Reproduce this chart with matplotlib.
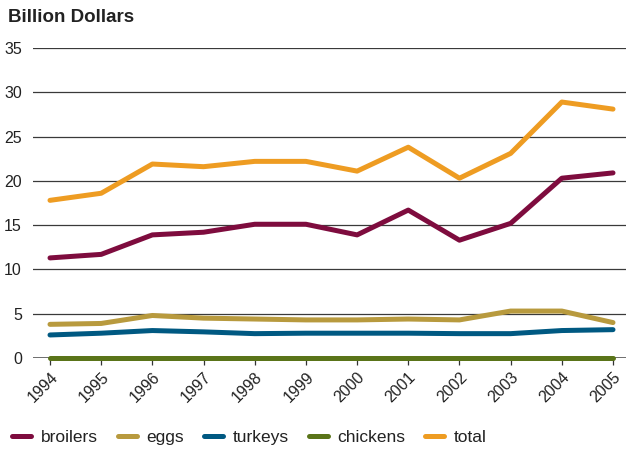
import matplotlib
matplotlib.use("Agg")
import matplotlib.pyplot as plt

plt.rcParams['font.family'] = ['Liberation Sans', 'DejaVu Sans']

years = [1994, 1995, 1996, 1997, 1998, 1999, 2000, 2001, 2002, 2003, 2004, 2005]
broilers = [11.3, 11.7, 13.9, 14.2, 15.1, 15.1, 13.9, 16.7, 13.3, 15.2, 20.3, 20.9]
eggs = [3.8, 3.9, 4.8, 4.5, 4.4, 4.3, 4.3, 4.4, 4.3, 5.3, 5.3, 4.0]
turkeys = [2.6, 2.8, 3.1, 2.95, 2.75, 2.8, 2.8, 2.8, 2.75, 2.75, 3.1, 3.2]
chickens = [0.05] * 12
total = [17.8, 18.6, 21.9, 21.6, 22.2, 22.2, 21.1, 23.8, 20.3, 23.1, 28.9, 28.1]

series = [
    ("broilers", broilers, "#7E0C3E"),
    ("eggs", eggs, "#B89A3E"),
    ("turkeys", turkeys, "#005982"),
    ("chickens", chickens, "#5A7419"),
    ("total", total, "#EE9C22"),
]

fig = plt.figure(figsize=(6.26, 4.49), dpi=100)
ax = fig.add_axes([33/626, 1 - 358/449, 1 - 33/626, 310/449])

for y in range(5, 40, 5):
    ax.axhline(y, color="#3a3a3a", lw=0.9, zorder=1)
ax.axhline(0, color="#555555", lw=1.2, zorder=1)

for name, vals, col in series:
    ax.plot(years, vals, color=col, lw=3.6, label=name, solid_capstyle="round",
            solid_joinstyle="round", zorder=3, clip_on=False)

ax.set_xlim(1994 - 17/51.18, 2005 + 13/51.18)
ax.set_ylim(0, 35)
ax.set_yticks(range(0, 40, 5))
ax.set_xticks(years)
ax.set_xticklabels([str(y) for y in years], rotation=45, ha="right",
                   rotation_mode="anchor", fontsize=11.5, color="#222222")
ax.tick_params(axis="y", length=0, labelsize=11.5, labelcolor="#222222", pad=8)
ax.tick_params(axis="x", length=5, width=0.9, color="#333333", pad=3)
for s in ax.spines.values():
    s.set_visible(False)

fig.text(8/626, 1 - 17/449, "Billion Dollars", fontsize=13.5, fontweight="bold",
         color="#222222", va="center", ha="left")

leg = fig.legend(loc="center left", bbox_to_anchor=(12/626, 1 - 437/449), ncol=5,
                 frameon=False, fontsize=12.5, handlelength=1.1, columnspacing=1.15,
                 handletextpad=0.55, borderaxespad=0, borderpad=0)
for t in leg.get_texts():
    t.set_color("#222222")
for h in leg.legend_handles:
    h.set_solid_capstyle("round")

fig.savefig("out.png", dpi=100)
